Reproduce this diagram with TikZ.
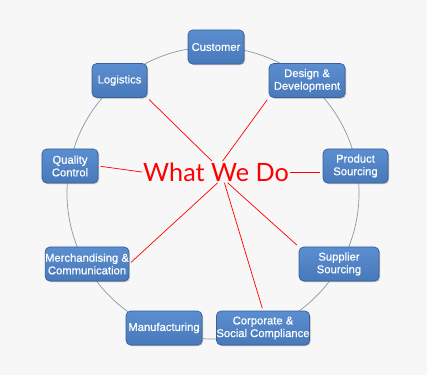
\documentclass[tikz,border=0pt]{standalone}
\usepackage{fontspec}
\setmainfont{Liberation Sans}
\newfontfamily\boxfont[FakeBold=0.6]{Liberation Sans}
\newfontfamily\hubfont{Lato}
\usetikzlibrary{shadows}
\definecolor{boxblue}{HTML}{4879BA}
\definecolor{boxtop}{HTML}{5B8ED0}
\definecolor{boxedge}{HTML}{36619A}
\definecolor{ringgray}{HTML}{8A99AC}
\definecolor{pagebg}{HTML}{F7F7F7}

\begin{document}
\begin{tikzpicture}[x=0.03cm, y=-0.03cm,
  box/.style={draw=boxedge, line width=0.6pt, rounded corners=4pt, top color=boxtop, bottom color=boxblue,
    text=white, font=\boxfont\fontsize{9.6}{10.8}\selectfont, align=center, inner sep=0pt, minimum height=1.02cm,
    drop shadow={shadow xshift=0.9pt, shadow yshift=-0.9pt, opacity=0.55}},
  link/.style={red, line width=0.6pt, shorten >=2pt}]
  \fill[pagebg] (0,0) rectangle (427,375);
  \useasboundingbox (0,0) rectangle (427,375);
  \draw[ringgray, line width=0.6pt] (213,193) circle[radius=4.38cm];
  \node[box, minimum width=1.68cm] (cu) at (216,47) {Customer};
  \node[box, minimum width=1.65cm] (lg) at (119.5,80.5) {Logistics};
  \node[box, minimum width=2.28cm] (dd) at (307,80.5) {Design \&\\Development};
  \node[box, minimum width=1.68cm] (qc) at (70,166) {Quality\\Control};
  \node[box, minimum width=1.95cm] (ps) at (355.5,166) {Product\\Sourcing};
  \node[box, minimum width=2.46cm] (mc) at (87,264) {Merchandising \&\\Communication};
  \node[box, minimum width=2.40cm] (ss) at (339,264) {Supplier\\Sourcing};
  \node[box, minimum width=2.28cm] (mf) at (164,328) {Manufacturing};
  \node[box, minimum width=2.58cm] (cs) at (263,328) {Corporate \&\\Social Compliance};
  \node[text=red, font=\hubfont\fontsize{21.5}{24}\selectfont, inner sep=1pt] (wwd) at (216,172) {What We Do};
  \draw[link] (wwd.110) -- (lg.south east);
  \draw[link] (wwd.59) -- (dd.south west);
  \draw[link] (wwd.west) -- (qc.east);
  \draw[link] (wwd.east) -- (wwd.east -| ps.west);
  \draw[link] (wwd.279) -- (mc.east);
  \draw[link] (wwd.308) -- (cs.north);
  \draw[link] (wwd.317) -- (ss.north west);
\end{tikzpicture}
\end{document}
